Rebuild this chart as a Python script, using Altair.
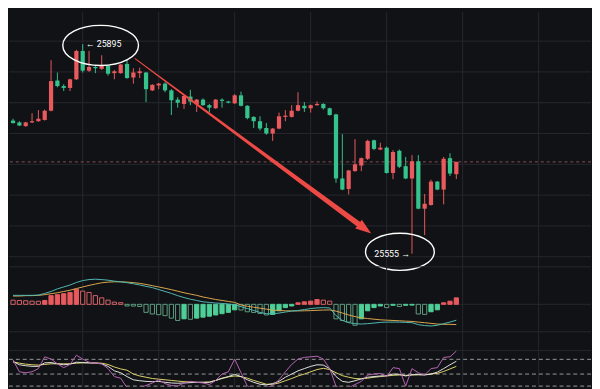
import altair as alt
import pandas as pd

# ---------------- data ----------------
idx = list(range(71))
opens = [25771, 25768, 25762, 25768, 25770, 25772, 25787, 25836, 25827, 25824,
         25838, 25884, 25852, 25858, 25855, 25860, 25848, 25848, 25863, 25841,
         25848, 25849, 25820, 25828, 25831, 25820, 25805, 25798, 25810, 25798,
         25805, 25796, 25791, 25805, 25802, 25799, 25812, 25795, 25777, 25770,
         25759, 25750, 25758, 25777, 25777, 25787, 25795, 25791, 25796, 25798,
         25791, 25781, 25677, 25660, 25689, 25698, 25709, 25739, 25724, 25727,
         25686, 25722, 25697, 25677, 25705, 25628, 25634, 25672, 25659, 25710,
         25684]
highs = [25774, 25770, 25769, 25783, 25788, 25789, 25869, 25849, 25830, 25839,
         25886, 25895, 25884, 25861, 25877, 25861, 25853, 25863, 25870, 25856,
         25857, 25850, 25830, 25832, 25833, 25822, 25809, 25812, 25821, 25806,
         25807, 25798, 25806, 25807, 25803, 25814, 25818, 25796, 25778, 25778,
         25767, 25759, 25784, 25788, 25796, 25817, 25801, 25797, 25802, 25799,
         25792, 25782, 25749, 25691, 25741, 25711, 25740, 25740, 25735, 25729,
         25723, 25724, 25712, 25715, 25715, 25652, 25675, 25673, 25712, 25718,
         25704]
lows = [25766, 25762, 25761, 25767, 25769, 25771, 25786, 25825, 25819, 25819,
        25837, 25849, 25850, 25848, 25853, 25844, 25838, 25847, 25839, 25831,
        25840, 25801, 25819, 25822, 25817, 25780, 25792, 25790, 25796, 25785,
        25795, 25784, 25790, 25792, 25799, 25798, 25794, 25773, 25759, 25755,
        25748, 25738, 25757, 25770, 25776, 25786, 25785, 25784, 25795, 25789,
        25779, 25670, 25658, 25651, 25688, 25689, 25707, 25723, 25723, 25685,
        25676, 25694, 25676, 25555, 25627, 25585, 25633, 25658, 25635, 25681,
        25676]
closes = [25767, 25763, 25768, 25770, 25774, 25787, 25835, 25827, 25824, 25838,
          25884, 25852, 25858, 25856, 25860, 25847, 25851, 25862, 25840, 25849,
          25851, 25822, 25829, 25831, 25820, 25804, 25800, 25811, 25802, 25805,
          25796, 25792, 25805, 25803, 25800, 25812, 25795, 25775, 25770, 25758,
          25750, 25758, 25778, 25779, 25787, 25796, 25791, 25796, 25798, 25791,
          25780, 25677, 25659, 25690, 25700, 25710, 25738, 25725, 25727, 25686,
          25720, 25696, 25677, 25705, 25628, 25636, 25672, 25659, 25709, 25685,
          25704]

dif = [9.3, 9.3, 9.3, 9.3, 9.6, 11.3, 13.3, 16.0, 18.0, 20.0,
       22.6, 24.6, 25.6, 26.0, 25.6, 25.0, 24.0, 23.3, 22.4, 21.3,
       20.0, 18.6, 17.3, 15.3, 13.3, 11.3, 9.0, 7.0, 5.3, 4.0,
       2.6, 2.0, 1.3, 1.0, 0.3, -0.4, -2.4, -4.4, -6.4, -8.4,
       -9.7, -10.0, -9.0, -8.0, -7.0, -6.4, -5.4, -4.4, -3.7, -3.4,
       -3.7, -11.7, -16.7, -19.0, -20.0, -20.4, -20.0, -19.4, -18.7, -18.4,
       -18.4, -18.4, -18.7, -19.0, -21.0, -22.0, -22.4, -21.7, -20.0, -18.4,
       -16.4]
dea = [8.6, 8.6, 9.0, 9.0, 9.3, 10.0, 11.0, 12.0, 13.3, 14.6,
       16.3, 18.0, 19.6, 21.0, 22.3, 23.0, 23.3, 23.3, 23.0, 22.5,
       21.7, 20.6, 19.3, 18.0, 16.6, 15.2, 13.6, 12.0, 10.6, 9.3,
       7.6, 6.3, 5.0, 4.0, 3.0, 2.0, -0.7, -2.0, -3.0, -4.0,
       -5.0, -6.0, -6.4, -6.7, -6.8, -6.8, -6.7, -6.5, -6.2, -5.9,
       -5.8, -7.0, -9.0, -11.0, -12.7, -14.0, -14.7, -15.4, -16.0, -16.4,
       -16.7, -17.0, -17.4, -17.7, -18.4, -19.0, -19.7, -20.4, -20.7, -20.7,
       -21.0]
hist = [4.3, 4.0, 3.7, 3.3, 3.2, 4.0, 9.0, 10.0, 11.0, 12.3,
        15.7, 13.7, 12.3, 9.0, 6.7, 4.3, 2.3, 1.7, -1.7, -1.8,
        -2.2, -8.3, -10.0, -10.7, -11.7, -14.3, -16.7, -15.0, -15.5, -14.3,
        -13.3, -12.3, -11.0, -9.7, -8.3, -5.7, -5.9, -7.7, -8.4, -9.4,
        -11.0, -10.4, -6.7, -3.4, -1.7, 1.6, 2.6, 3.3, 5.0, 4.3,
        3.3, -15.0, -16.7, -18.4, -21.7, -15.0, -6.7, -3.4, -1.7, -3.4,
        -1.0, -2.3, -1.0, -0.8, -10.0, -10.4, -7.7, -5.7, 1.6, 3.3,
        6.7]

k_line = [70.8, 57.8, 53.9, 51.3, 51.3, 65.6, 66.9, 61.7, 57.8, 60.4,
          68.2, 66.9, 65.6, 64.3, 61.7, 51.3, 33.1, 25.3, 9.7, -3.3,
          -7.2, -9.7, -11.0, -9.7, -13.6, -16.2, -17.5, -16.2, -14.9, -13.6,
          -13.6, -13.6, -5.9, 3.2, 9.7, 18.8, 9.7, -3.3, -13.6, -21.4,
          -24.0, -18.8, -9.7, 7.1, 20.1, 33.1, 42.2, 51.3, 57.8, 56.5,
          42.2, 9.7, -9.7, -13.6, -7.2, 0.6, 7.1, 9.7, 12.3, 13.6,
          20.1, 18.8, 12.3, 17.5, 17.5, 16.2, 20.1, 27.9, 42.2, 57.8,
          72.1]
d_line = [69.5, 64.3, 60.4, 57.8, 56.5, 59.1, 61.7, 61.7, 61.7, 61.7,
          64.3, 65.6, 65.6, 65.6, 64.3, 59.1, 48.7, 40.9, 35.7, 20.1,
          12.3, 7.1, 1.9, -0.7, -3.3, -5.9, -8.5, -11.0, -12.3, -13.6,
          -13.6, -12.3, -5.9, 1.9, 8.4, 12.3, 9.7, 3.2, -5.9, -13.6,
          -21.4, -21.4, -16.2, -7.2, 1.9, 12.3, 20.1, 29.2, 38.3, 43.5,
          38.3, 25.3, 13.6, 7.1, 1.9, 0.6, 3.2, 7.1, 9.7, 12.3,
          14.9, 16.2, 14.9, 16.2, 17.5, 17.5, 20.1, 22.7, 30.5, 40.9,
          51.3]
j_line = [77.3, 29.2, 25.3, 29.2, 42.2, 90.2, 81.2, 61.7, 46.1, 59.1,
          96.7, 81.2, 68.2, 64.3, 61.7, 42.2, 9.7, 3.2, -35.7, -42.2,
          -35.7, -26.6, -16.2, -3.3, -18.8, -26.6, -29.2, -16.2, -9.7, -13.6,
          -16.2, -22.7, -5.9, 20.1, 29.2, 81.2, 25.3, -29.2, -39.6, -42.2,
          -35.7, -26.6, -3.3, 29.2, 59.1, 81.2, 87.7, 90.2, 92.8, 81.2,
          42.2, -29.2, -42.2, -35.7, -22.7, -9.7, 16.2, 20.1, 22.7, 9.7,
          46.1, 42.2, -29.2, 42.2, 25.3, 16.2, 42.2, 46.1, 87.7, 90.2,
          113.6]

grid_x = [11, 23, 35, 47, 59, 71, 83]
grid_price = [25550, 25600, 25650, 25700, 25750, 25800, 25850, 25900]
grid_macd = [38.8, 0, -28.4]
grid_kdj = [116.2]
kdj_levels = [80, 20, -29]
high_label = "\u2190 25895"
low_label = "25555 \u2192"

# ---------------- styling ----------------
BG = "#111215"
GRID = "#26282d"
UP = "#e85a5e"
DOWN = "#35c28c"
ARROW = "#ee4a45"
W = 592
H_MAIN, H_MACD, H_KDJ = 259, 85, 37

x_scale = alt.Scale(domain=[-0.643, 91.27], nice=False, zero=False, padding=0)


def xq(field="i"):
    return alt.X(f"{field}:Q", scale=x_scale, axis=None)


def grid_layers(y_scale, y_values):
    vx = alt.Chart(pd.DataFrame({"g": grid_x})).mark_rule(
        color=GRID, strokeWidth=1).encode(x=xq("g"))
    hy = alt.Chart(pd.DataFrame({"g": y_values})).mark_rule(
        color=GRID, strokeWidth=1).encode(y=alt.Y("g:Q", scale=y_scale, axis=None))
    return [vx, hy]


# ---------------- main candle panel ----------------
candles = pd.DataFrame({"i": idx, "open": opens, "high": highs,
                        "low": lows, "close": closes})
candles["dir"] = ["up" if c >= o else "down" for o, c in zip(opens, closes)]

y_main = alt.Scale(domain=[25533.6, 25946.9], nice=False, zero=False, padding=0)
dir_color = alt.Color("dir:N", scale=alt.Scale(domain=["up", "down"], range=[UP, DOWN]),
                      legend=None)

wicks = alt.Chart(candles).mark_rule(strokeWidth=1).encode(
    x=xq(),
    y=alt.Y("low:Q", scale=y_main, axis=None),
    y2="high:Q",
    color=dir_color,
)
bodies = alt.Chart(candles).mark_bar(size=4.3).encode(
    x=xq(),
    y=alt.Y("open:Q", scale=y_main, axis=None),
    y2="close:Q",
    color=dir_color,
)
last_price = alt.Chart(pd.DataFrame({"p": [closes[-1]]})).mark_rule(
    color="#8a5052", strokeDash=[3, 3], strokeWidth=1
).encode(y=alt.Y("p:Q", scale=y_main, axis=None))

arrow_df = pd.DataFrame({"i": [19.27, 54.58], "p": [25871.4, 25602.8], "w": [1.0, 5.5]})
arrow_line = alt.Chart(arrow_df).mark_trail(color=ARROW).encode(
    x=xq(),
    y=alt.Y("p:Q", scale=y_main, axis=None),
    size=alt.Size("w:Q", scale=None, legend=None),
)
head = alt.Chart(pd.DataFrame({"i": [55.56], "p": [25595.3]})).mark_point(
    shape="M0,-1L0.7,1L-0.7,1Z", size=256, angle=126.5, filled=True,
    color=ARROW, opacity=1, strokeWidth=0
).encode(x=xq(), y=alt.Y("p:Q", scale=y_main, axis=None))

ELL1 = "M-1,0A1,0.53,0,1,1,1,0A1,0.53,0,1,1,-1,0Z"
ELL2 = "M-1,0A1,0.54,0,1,1,1,0A1,0.54,0,1,1,-1,0Z"
ell1 = alt.Chart(pd.DataFrame({"i": [13.83], "p": [25893.0]})).mark_point(
    shape=ELL1, size=5929, filled=False, color="#ffffff", strokeWidth=1.4, opacity=1
).encode(x=xq(), y=alt.Y("p:Q", scale=y_main, axis=None))
ell2 = alt.Chart(pd.DataFrame({"i": [61.09], "p": [25558.0]})).mark_point(
    shape=ELL2, size=4900, filled=False, color="#ffffff", strokeWidth=1.4, opacity=1
).encode(x=xq(), y=alt.Y("p:Q", scale=y_main, axis=None))

txt_hi = alt.Chart(pd.DataFrame({"i": [11], "p": [highs[11]], "t": [high_label]})).mark_text(
    align="left", baseline="middle", dx=3, color="#ffffff", fontSize=9, font="Roboto"
).encode(x=xq(), y=alt.Y("p:Q", scale=y_main, axis=None), text="t:N")
txt_lo = alt.Chart(pd.DataFrame({"i": [63], "p": [lows[63]], "t": [low_label]})).mark_text(
    align="right", baseline="middle", dx=-2, color="#ffffff", fontSize=9, font="Roboto"
).encode(x=xq(), y=alt.Y("p:Q", scale=y_main, axis=None), text="t:N")

main = alt.layer(*grid_layers(y_main, grid_price), wicks, last_price, bodies,
                 arrow_line, head, ell1, ell2, txt_hi, txt_lo
                 ).properties(width=W, height=H_MAIN)

# ---------------- MACD panel ----------------
macd = pd.DataFrame({"i": idx, "dif": dif, "dea": dea, "hist": hist})
prev = [hist[0]] + hist[:-1]
macd["key"] = [("up" if h >= 0 else "down") + ("_solid" if h > p else "_hollow")
               for h, p in zip(hist, prev)]
keys = ["up_solid", "up_hollow", "down_solid", "down_hollow"]
y_macd = alt.Scale(domain=[-47.7, 38.8], nice=False, zero=False, padding=0)

bars = alt.Chart(macd).mark_bar(size=4.3, strokeWidth=1).encode(
    x=xq(),
    y=alt.Y("hist:Q", scale=y_macd, axis=None),
    y2=alt.datum(0),
    fill=alt.Fill("key:N", scale=alt.Scale(domain=keys, range=[UP, BG, "#4fcf98", BG]),
                  legend=None),
    stroke=alt.Stroke("key:N", scale=alt.Scale(domain=keys,
                      range=[UP, "#d8646a", "#4fcf98", "#5f9e82"]), legend=None),
)
dea_line = alt.Chart(macd).mark_line(color="#dba64e", strokeWidth=1).encode(
    x=xq(), y=alt.Y("dea:Q", scale=y_macd, axis=None))
dif_line = alt.Chart(macd).mark_line(color="#52b9b3", strokeWidth=1).encode(
    x=xq(), y=alt.Y("dif:Q", scale=y_macd, axis=None))

macd_panel = alt.layer(*grid_layers(y_macd, grid_macd), bars, dea_line, dif_line
                       ).properties(width=W, height=H_MACD)

# ---------------- KDJ panel ----------------
kdj = pd.DataFrame({"i": idx, "K": k_line, "D": d_line, "J": j_line})
y_kdj = alt.Scale(domain=[-31.8, 116.2], nice=False, zero=False, padding=0)

levels = alt.Chart(pd.DataFrame({"v": kdj_levels})).mark_rule(
    color="#9a9a9e", strokeDash=[4, 3], strokeWidth=1
).encode(y=alt.Y("v:Q", scale=y_kdj, axis=None))


def kline(field, color):
    return alt.Chart(kdj).mark_line(color=color, strokeWidth=1, clip=True).encode(
        x=xq(), y=alt.Y(f"{field}:Q", scale=y_kdj, axis=None))


kdj_panel = alt.layer(*grid_layers(y_kdj, grid_kdj), levels, kline("D", "#ded36a"),
                      kline("K", "#e2e2e2"), kline("J", "#b865b6")
                      ).properties(width=W, height=H_KDJ)

chart = alt.vconcat(main, macd_panel, kdj_panel, spacing=0, bounds="flush").properties(
    padding=0, background=BG
).configure_view(stroke=None)

chart.save("out.html", embed_options={"renderer": "svg", "actions": False})
